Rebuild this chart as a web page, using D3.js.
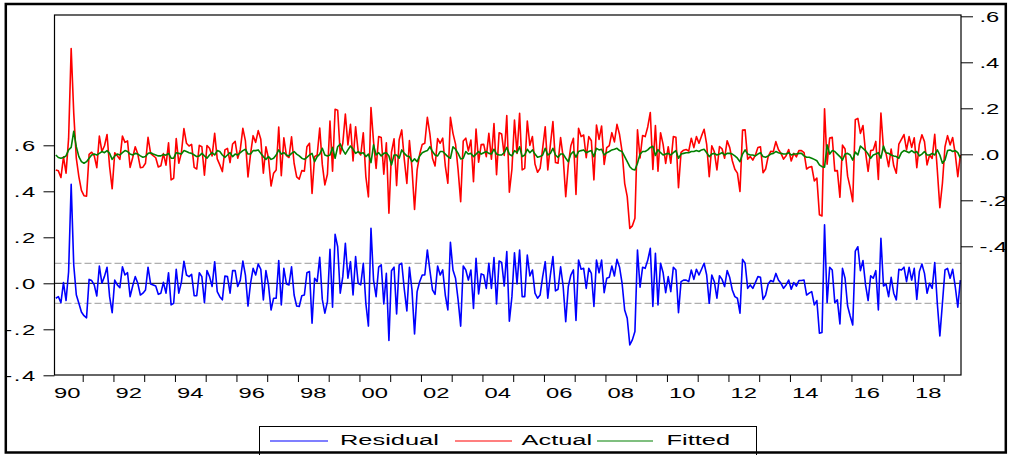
<!DOCTYPE html>
<html><head><meta charset="utf-8">
<script src="https://cdn.jsdelivr.net/npm/d3@7"></script>
<style>
body{margin:0;background:#fff}
svg{display:block}
text{font-family:"Liberation Sans",Arial,sans-serif;fill:#000}
</style>
</head><body>
<svg id="chart" width="1009" height="455"></svg>
<script>
// monthly observations, first one = 1990 February
const startYear = 1990, startMonth = 2;

const residual = [
 -0.065,-0.058,-0.084,0.003,-0.075,0.05,0.43,0.08,-0.05,-0.087,-0.125,
 -0.141,-0.15,0.017,0.012,-0.007,-0.055,0.075,0.0,0.03,0.07,-0.058,-0.128,
 0.014,-0.007,-0.019,0.072,0.036,0.046,-0.058,-0.012,0.029,0.0,-0.051,-0.043,
 -0.029,0.07,-0.003,-0.007,-0.012,-0.048,-0.043,0.004,-0.043,0.046,-0.094,-0.087,
 0.061,-0.043,0.004,0.096,0.036,0.029,0.039,-0.054,-0.054,0.046,0.029,-0.084,
 0.055,0.029,-0.014,0.094,-0.036,-0.058,-0.072,0.032,0.029,-0.043,0.055,0.055,
 -0.014,0.014,0.097,0.036,-0.099,0.0,0.065,0.036,0.084,0.061,-0.072,0.055,
 -0.007,-0.116,-0.065,-0.065,0.099,-0.094,0.065,-0.003,-0.007,0.072,-0.051,-0.099,
 -0.101,-0.054,-0.051,0.046,0.051,-0.174,0.022,0.007,0.113,-0.07,-0.13,-0.08,
 0.148,-0.104,0.213,0.159,-0.043,0.029,0.174,0.022,0.094,-0.051,0.116,0.0,
 -0.007,0.087,-0.087,-0.186,0.239,0.014,-0.058,0.07,0.08,-0.09,0.043,-0.249,
 0.055,0.07,-0.133,0.08,0.087,-0.026,-0.12,0.07,-0.029,-0.22,-0.036,0.007,
 0.036,0.036,0.145,0.055,-0.029,-0.048,0.075,0.036,0.058,-0.051,-0.116,0.178,
 0.058,0.022,-0.072,-0.186,0.075,0.058,0.014,0.058,-0.109,0.109,-0.046,0.041,
 0.036,-0.022,0.087,-0.022,0.112,-0.09,0.097,0.091,-0.012,0.138,-0.165,-0.058,
 0.133,-0.003,0.145,-0.058,-0.058,0.123,0.032,0.058,-0.043,-0.065,-0.051,0.029,
 0.094,-0.065,0.036,0.116,-0.033,-0.026,0.072,-0.014,-0.167,-0.014,0.036,0.058,
 -0.162,0.101,0.061,0.065,-0.022,0.065,0.043,-0.101,0.101,0.046,0.101,-0.041,
 0.022,0.026,0.075,0.032,0.104,0.07,0.0,-0.116,-0.152,-0.268,-0.246,-0.21,
 0.145,-0.017,0.07,0.065,0.1,0.152,-0.101,0.13,-0.094,0.087,0.046,-0.041,
 0.029,-0.036,0.07,0.058,-0.128,0.007,0.014,0.014,0.007,0.058,0.017,0.061,
 0.036,0.061,0.087,0.036,-0.087,0.036,0.007,-0.065,0.033,0.017,-0.014,0.055,
 0.025,-0.029,-0.058,-0.065,-0.13,0.104,0.087,-0.022,-0.007,-0.022,0.003,0.029,
 0.026,-0.07,-0.051,-0.003,0.012,0.007,0.043,0.014,0.0,-0.022,-0.007,0.014,
 -0.026,0.003,-0.012,0.012,0.012,0.014,-0.051,-0.043,-0.036,-0.094,-0.075,-0.217,
 -0.214,0.254,-0.084,0.07,0.058,-0.084,-0.072,-0.177,0.065,0.022,-0.099,-0.142,
 -0.181,0.14,0.159,0.055,0.099,-0.007,-0.075,0.033,0.022,0.055,-0.116,0.196,
 -0.012,-0.003,-0.058,0.026,-0.043,-0.072,0.061,0.058,0.07,0.007,0.07,0.014,
 0.065,-0.07,0.051,0.084,0.043,-0.043,0.0,-0.022,0.09,-0.087,-0.229,-0.087,
 0.058,0.065,0.022,0.061,-0.014,-0.104,0.014
];

const actual = [
 -0.068,-0.072,-0.101,-0.011,-0.082,0.069,0.46,0.18,-0.017,-0.097,-0.157,
 -0.18,-0.182,0.0,0.009,-0.006,-0.058,0.079,0.012,0.037,0.086,-0.054,-0.15,
 0.007,-0.006,-0.022,0.079,0.052,0.058,-0.057,-0.015,0.033,0.001,-0.058,-0.056,
 -0.039,0.074,0.004,-0.006,-0.015,-0.055,-0.05,0.003,-0.047,0.05,-0.111,-0.104,
 0.068,-0.039,0.005,0.112,0.048,0.036,0.043,-0.057,-0.064,0.039,0.033,-0.091,
 0.038,0.026,-0.007,0.091,-0.02,-0.046,-0.075,0.019,0.026,-0.036,0.045,0.056,
 -0.017,0.021,0.113,0.058,-0.098,0.001,0.081,0.052,0.103,0.065,-0.082,0.033,
 -0.017,-0.138,-0.082,-0.068,0.118,-0.093,0.072,-0.006,-0.014,0.076,-0.039,-0.098,
 -0.108,-0.071,-0.073,0.033,0.048,-0.17,-0.01,-0.003,0.114,-0.044,-0.133,-0.087,
 0.145,-0.074,0.196,0.192,0.002,0.048,0.175,0.041,0.13,-0.029,0.12,0.012,
 -0.003,0.094,-0.097,-0.185,0.203,0.055,-0.061,0.077,0.073,-0.086,0.05,-0.256,
 0.009,0.067,-0.136,0.063,0.106,-0.022,-0.127,0.06,-0.061,-0.24,-0.068,0.0,
 0.043,0.048,0.161,0.088,-0.017,-0.051,0.068,0.048,0.07,-0.05,-0.126,0.161,
 0.091,0.044,-0.068,-0.206,0.058,0.07,0.015,0.062,-0.119,0.11,-0.034,0.042,
 0.043,-0.01,0.091,-0.021,0.134,-0.089,0.094,0.088,-0.005,0.168,-0.165,-0.065,
 0.149,0.004,0.178,-0.068,-0.061,0.145,0.039,0.077,-0.042,-0.078,-0.061,0.026,
 0.12,-0.068,0.04,0.142,-0.036,-0.039,0.073,-0.013,-0.184,-0.046,0.037,0.07,
 -0.175,0.113,0.077,0.084,-0.015,0.077,0.059,-0.111,0.127,0.065,0.123,-0.044,
 0.029,0.038,0.094,0.054,0.13,0.086,0.012,-0.126,-0.184,-0.322,-0.311,-0.278,
 0.106,-0.016,0.082,0.077,0.119,0.182,-0.066,0.125,-0.074,0.094,0.043,-0.04,
 0.033,-0.039,0.077,0.074,-0.145,0.008,0.018,0.021,0.014,0.07,0.029,0.077,
 0.048,0.08,0.109,0.043,-0.097,0.037,0.011,-0.068,0.034,0.024,-0.017,0.059,
 0.029,-0.028,-0.065,-0.082,-0.162,0.105,0.106,-0.021,-0.01,-0.025,-0.004,0.03,
 0.033,-0.08,-0.064,-0.01,0.013,0.011,0.055,0.021,0.004,-0.021,-0.006,0.021,
 -0.029,0.004,-0.011,0.016,0.016,0.007,-0.064,-0.056,-0.053,-0.116,-0.103,-0.263,
 -0.268,0.198,-0.043,0.071,0.074,-0.072,-0.071,-0.187,0.04,0.023,-0.095,-0.145,
 -0.206,0.15,0.156,0.091,0.125,0.009,-0.074,0.016,0.019,0.056,-0.109,0.179,
 0.024,0.004,-0.054,0.023,-0.05,-0.082,0.044,0.065,0.086,0.019,0.077,0.03,
 0.072,-0.058,0.044,0.085,0.055,-0.046,-0.003,-0.018,0.087,-0.068,-0.232,-0.126,
 0.033,0.081,0.041,0.073,0.002,-0.097,-0.003
];

const fitted = [
 -0.003,-0.014,-0.017,-0.014,-0.007,0.019,0.03,0.10,0.033,-0.01,-0.032,
 -0.039,-0.032,-0.017,-0.003,0.001,-0.003,0.004,0.012,0.007,0.016,0.004,-0.022,
 -0.007,0.001,-0.003,0.007,0.016,0.012,0.001,-0.003,0.004,0.001,-0.007,-0.013,
 -0.01,0.004,0.007,0.001,-0.003,-0.007,-0.007,-0.001,-0.004,0.004,-0.017,-0.017,
 0.007,0.004,0.001,0.016,0.012,0.007,0.004,-0.003,-0.01,-0.007,0.004,-0.007,
 -0.017,-0.003,0.007,-0.003,0.016,0.012,-0.003,-0.013,-0.003,0.007,-0.01,0.001,
 -0.003,0.007,0.016,0.022,0.001,0.001,0.016,0.016,0.019,0.004,-0.01,-0.022,
 -0.01,-0.022,-0.017,-0.003,0.019,0.001,0.007,-0.003,-0.007,0.004,0.012,0.001,
 -0.007,-0.017,-0.022,-0.013,-0.003,0.004,-0.032,-0.01,0.001,0.026,-0.003,-0.007,
 -0.003,0.03,-0.017,0.033,0.045,0.019,0.001,0.019,0.036,0.022,0.004,0.012,
 0.004,0.007,-0.01,0.001,-0.036,0.041,-0.003,0.007,-0.007,0.004,0.007,-0.007,
 -0.046,-0.003,-0.003,-0.017,0.019,0.004,-0.007,-0.01,-0.032,-0.02,-0.032,-0.007,
 0.007,0.012,0.016,0.033,0.012,-0.003,-0.007,0.012,0.012,0.001,-0.01,-0.017,
 0.033,0.022,0.004,-0.02,-0.017,0.012,0.001,0.004,-0.01,0.001,0.012,0.001,
 0.007,0.012,0.004,0.001,0.022,0.001,-0.003,-0.003,0.007,0.03,0.0,-0.007,
 0.016,0.007,0.033,-0.01,-0.003,0.022,0.007,0.019,0.001,-0.013,-0.01,-0.003,
 0.026,-0.003,0.004,0.026,-0.003,-0.013,0.001,0.001,-0.017,-0.032,0.001,0.012,
 -0.013,0.012,0.016,0.019,0.007,0.012,0.016,-0.01,0.026,0.019,0.022,-0.003,
 0.007,0.012,0.019,0.022,0.026,0.016,0.012,-0.01,-0.032,-0.054,-0.065,-0.068,
 -0.039,0.001,0.012,0.012,0.019,0.03,0.035,-0.005,0.02,0.007,-0.003,0.001,
 0.004,-0.003,0.007,0.016,-0.017,0.001,0.004,0.007,0.007,0.012,0.012,0.016,
 0.012,0.019,0.022,0.007,-0.01,0.001,0.004,-0.003,0.001,0.007,-0.003,0.004,
 0.004,0.001,-0.007,-0.017,-0.032,0.001,0.019,0.001,-0.003,-0.003,-0.007,0.001,
 0.007,-0.01,-0.013,-0.007,0.001,0.004,0.012,0.007,0.004,0.001,0.001,0.007,
 -0.003,0.001,0.001,0.004,0.004,-0.007,-0.013,-0.013,-0.017,-0.022,-0.028,-0.046,
 -0.054,-0.056,0.041,0.001,0.016,0.012,0.001,-0.01,-0.025,0.001,0.004,-0.003,
 -0.025,0.01,-0.003,0.036,0.026,0.016,0.001,-0.017,-0.003,0.001,0.007,-0.017,
 0.036,0.007,0.004,-0.003,-0.007,-0.01,-0.017,0.007,0.016,0.012,0.007,0.016,
 0.007,0.012,-0.007,0.001,0.012,-0.003,-0.003,0.004,-0.003,0.019,-0.003,-0.039,
 -0.025,0.016,0.019,0.012,0.016,0.007,-0.017
];

const leftTicks = [-0.4, -0.2, 0.0, 0.2, 0.4, 0.6];
const rightTicks = [-0.4, -0.2, 0.0, 0.2, 0.4, 0.6];
const yearTicks = [1991,1992,1993,1994,1995,1996,1997,1998,1999,2000,2001,2002,2003,2004,2005,2006,2007,2008,2009,2010,2011,2012,2013,2014,2015,2016,2017,2018,2019];
const yearLabels = ["90","92","94","96","98","00","02","04","06","08","10","12","14","16","18"];
const labelYears = [1990,1992,1994,1996,1998,2000,2002,2004,2006,2008,2010,2012,2014,2016,2018];
const seriesNames = ["Residual", "Actual", "Fitted"];
const seriesColors = ["#0000ff", "#ff0000", "#008000"];
const residualSE = 0.087;

const svg = d3.select("#chart");
const X0 = 54.5, X1 = 961, Y0 = 15, Y1 = 375;
const SX = 1.7; // horizontal stretch of the text in the reference

const x = d3.scaleLinear().domain([1990, 2019]).range([51.95, 943.7]);
const yL = d3.scaleLinear().domain([-0.4, 0.6]).range([375.3, 145.3]);
const yR = d3.scaleLinear().domain([-0.4, 0.6]).range([246.3, 16.3]);
const tOf = i => startYear + (startMonth - 1 + i + 0.5) / 12;
const fmt = v => v === 0 ? ".0" : (v < 0 ? "-" : "") + String(Math.abs(+v.toFixed(2))).replace(/^0/, "");

svg.append("rect").attr("width", 1009).attr("height", 455).attr("fill", "#fff");

// residual +/- S.E. lines and zero line
[residualSE, -residualSE].forEach(v => {
  svg.append("line").attr("x1", X0).attr("x2", X1).attr("y1", yL(v)).attr("y2", yL(v))
    .attr("stroke", "#9a9a9a").attr("stroke-width", 1).attr("stroke-dasharray", "7,3");
});
svg.append("line").attr("x1", X0).attr("x2", X1).attr("y1", yL(0)).attr("y2", yL(0))
  .attr("stroke", "#000").attr("stroke-width", 1);

const lineL = d3.line().x((d, i) => x(tOf(i))).y(d => yL(d));
const lineR = d3.line().x((d, i) => x(tOf(i))).y(d => yR(d));

svg.append("path").datum(residual).attr("d", lineL).attr("fill", "none")
  .attr("stroke", seriesColors[0]).attr("stroke-width", 1.6).attr("stroke-linejoin", "round");
svg.append("path").datum(actual).attr("d", lineR).attr("fill", "none")
  .attr("stroke", seriesColors[1]).attr("stroke-width", 1.6).attr("stroke-linejoin", "round");
svg.append("path").datum(fitted).attr("d", lineR).attr("fill", "none")
  .attr("stroke", seriesColors[2]).attr("stroke-width", 1.6).attr("stroke-linejoin", "round");

// plot frame
svg.append("rect").attr("x", X0).attr("y", Y0).attr("width", X1 - X0).attr("height", Y1 - Y0)
  .attr("fill", "none").attr("stroke", "#000").attr("stroke-width", 1.2);

// left axis
const gL = svg.append("g").attr("transform", `translate(${X0},0)`)
  .call(d3.axisLeft(yL).tickValues(leftTicks).tickSize(11).tickFormat(fmt));
gL.select(".domain").remove();
gL.selectAll(".tick line").attr("stroke", "#000");
gL.selectAll(".tick text").attr("x", 0).attr("dy", "0.34em")
  .attr("transform", `translate(-17.5,0) scale(${SX},1)`).style("font-size", "14px")
  .style("letter-spacing", "1px")
  .attr("font-family", null).attr("fill", "#000");

// right axis
const gR = svg.append("g").attr("transform", `translate(${X1},0)`)
  .call(d3.axisRight(yR).tickValues(rightTicks).tickSize(12).tickFormat(fmt));
gR.select(".domain").remove();
gR.selectAll(".tick line").attr("stroke", "#000");
gR.selectAll(".tick text").attr("x", 0).attr("dy", "0.34em")
  .attr("transform", `translate(18.5,0) scale(${SX},1)`).style("font-size", "14px")
  .attr("font-family", null).attr("fill", "#000");

// bottom axis (year boundaries)
const gB = svg.append("g").attr("transform", `translate(0,${Y1})`)
  .call(d3.axisBottom(x).tickValues(yearTicks).tickSize(7).tickFormat(""));
gB.select(".domain").remove();
gB.selectAll(".tick line").attr("stroke", "#000");

svg.append("g").selectAll("text").data(labelYears).join("text")
  .attr("transform", (d) => `translate(${x(d + 0.5)},398) scale(${SX},1)`)
  .attr("text-anchor", "middle").style("font-size", "14px")
  .text((d, i) => yearLabels[i]);

// legend
const lg = svg.append("g");
lg.append("rect").attr("x", 259.5).attr("y", 426.5).attr("width", 497).attr("height", 30)
  .attr("fill", "#fff").attr("stroke", "#000").attr("stroke-width", 1);
const legendItems = [
  {x1: 270, x2: 328, tx: 340},
  {x1: 455, x2: 512, tx: 521.5},
  {x1: 597, x2: 653, tx: 666.5}
];
legendItems.forEach((it, i) => {
  lg.append("line").attr("x1", it.x1).attr("x2", it.x2).attr("y1", 441).attr("y2", 441)
    .attr("stroke", seriesColors[i]).attr("stroke-width", 1.2);
  lg.append("text").attr("transform", `translate(${it.tx},445) scale(1.64,1)`)
    .style("font-size", "15.5px").text(seriesNames[i]);
});

// outer border
svg.append("rect").attr("x", 5.8).attr("y", 4).attr("width", 1000).attr("height", 448.5)
  .attr("fill", "none").attr("stroke", "#000").attr("stroke-width", 2.5);
</script>
</body></html>
